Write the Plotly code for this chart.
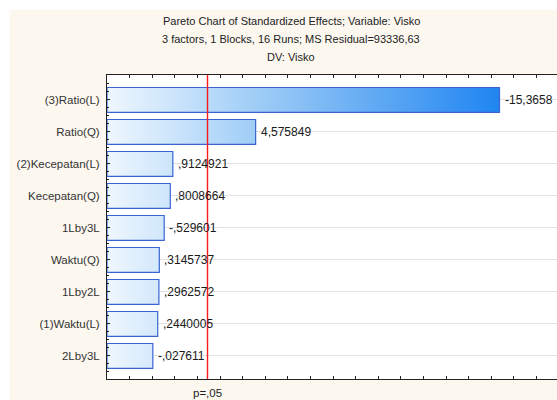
import plotly.graph_objects as go

# Effects (standardized t values) from the 3-factor design, sorted by magnitude
terms = ["(3)Ratio(L)", "Ratio(Q)", "(2)Kecepatan(L)", "Kecepatan(Q)", "1Lby3L",
         "Waktu(Q)", "1Lby2L", "(1)Waktu(L)", "2Lby3L"]
effects = [-15.3658, 4.575849, 0.9124921, 0.8008664, -0.529601,
           0.3145737, 0.2962572, 0.2440005, -0.027611]
t_crit = 2.446912          # two-sided t at p=.05, df = 6
p_label = "p=,05"
title_lines = [
    "Pareto Chart of Standardized Effects; Variable: Visko",
    "3 factors, 1 Blocks, 16 Runs; MS Residual=93336,63",
    "DV: Visko",
]

X_MIN, X_MAX = -2.0, 17.91
Y_TOP, Y_BOTTOM = -0.78, 8.72
HALF = 0.39
FONT = "Liberation Sans, Arial, sans-serif"


def stat_fmt(v):
    s = f"{v:.7g}"
    s = s.replace("-0.", "-.")
    if s.startswith("0."):
        s = s[1:]
    return s.replace(".", ",")


fig = go.Figure()
gradient = dict(type="horizontal", start=X_MIN, stop=15.4,
                colorscale=[[0, "#eff7fe"], [0.38, "#9fcdf6"], [1, "#1f85f1"]])

for i, v in enumerate(effects):
    mag = abs(v)
    fig.add_trace(go.Scatter(
        x=[X_MIN, mag, mag, X_MIN, X_MIN],
        y=[i - HALF, i - HALF, i + HALF, i + HALF, i - HALF],
        mode="lines", fill="toself", fillgradient=gradient,
        line=dict(color="#3a64d2", width=1.2),
        hoverinfo="skip", showlegend=False,
    ))
    fig.add_annotation(text=stat_fmt(v), x=mag, y=i, xref="x", yref="y",
                       showarrow=False, xanchor="left", yanchor="middle",
                       xshift=3,
                       font=dict(family=FONT, size=12, color="#1a1a1a"))

# significance threshold line
fig.add_trace(go.Scatter(
    x=[t_crit, t_crit], y=[Y_TOP, Y_BOTTOM], mode="lines",
    line=dict(color="#ff1a1a", width=1.4),
    hoverinfo="skip", showlegend=False, cliponaxis=False,
))

# white strips along top and left edges of the page
fig.add_shape(type="rect", xref="paper", yref="paper",
              x0=-0.26, x1=1.0, y0=1.215, y1=1.3, fillcolor="white",
              line=dict(width=0), layer="below")
fig.add_shape(type="rect", xref="paper", yref="paper",
              x0=-0.26, x1=-0.216, y0=-0.1, y1=1.3, fillcolor="white",
              line=dict(width=0), layer="below")

for k, line in enumerate(title_lines):
    fig.add_annotation(text=line, xref="paper", yref="paper",
                       x=0.409, y=1.178 - 0.0595 * k, showarrow=False,
                       xanchor="center", yanchor="middle",
                       font=dict(family=FONT, size=11, color="#222222"))

fig.add_annotation(text=p_label, xref="x", yref="paper", x=t_crit, y=-0.045,
                   showarrow=False, xanchor="center", yanchor="middle",
                   font=dict(family=FONT, size=11.5, color="#222222"))

fig.update_xaxes(range=[X_MIN, X_MAX], showticklabels=False, showgrid=False,
                 zeroline=False, showline=True, linecolor="#222222", linewidth=1,
                 mirror="ticks", ticks="inside", ticklen=3, tickcolor="#222222",
                 dtick=1, tick0=0)
fig.update_yaxes(range=[Y_BOTTOM, Y_TOP], tickmode="array",
                 tickvals=list(range(len(terms))), ticktext=terms,
                 showgrid=True, gridcolor="#e2e2e2", gridwidth=1,
                 zeroline=False, showline=True, linecolor="#222222", linewidth=1,
                 ticks="inside", ticklen=3, tickcolor="#222222",
                 ticklabelstandoff=4,
                 minor=dict(ticks="inside", ticklen=2, tickcolor="#222222",
                            dtick=0.25, tick0=0, showgrid=False),
                 tickfont=dict(family=FONT, size=11.5, color="#333333"))

fig.update_layout(
    width=557, height=400,
    margin=dict(l=107, r=0, t=75, b=21),
    paper_bgcolor="#fcf8f0", plot_bgcolor="white",
    showlegend=False,
)

fig.write_html("out.html")
